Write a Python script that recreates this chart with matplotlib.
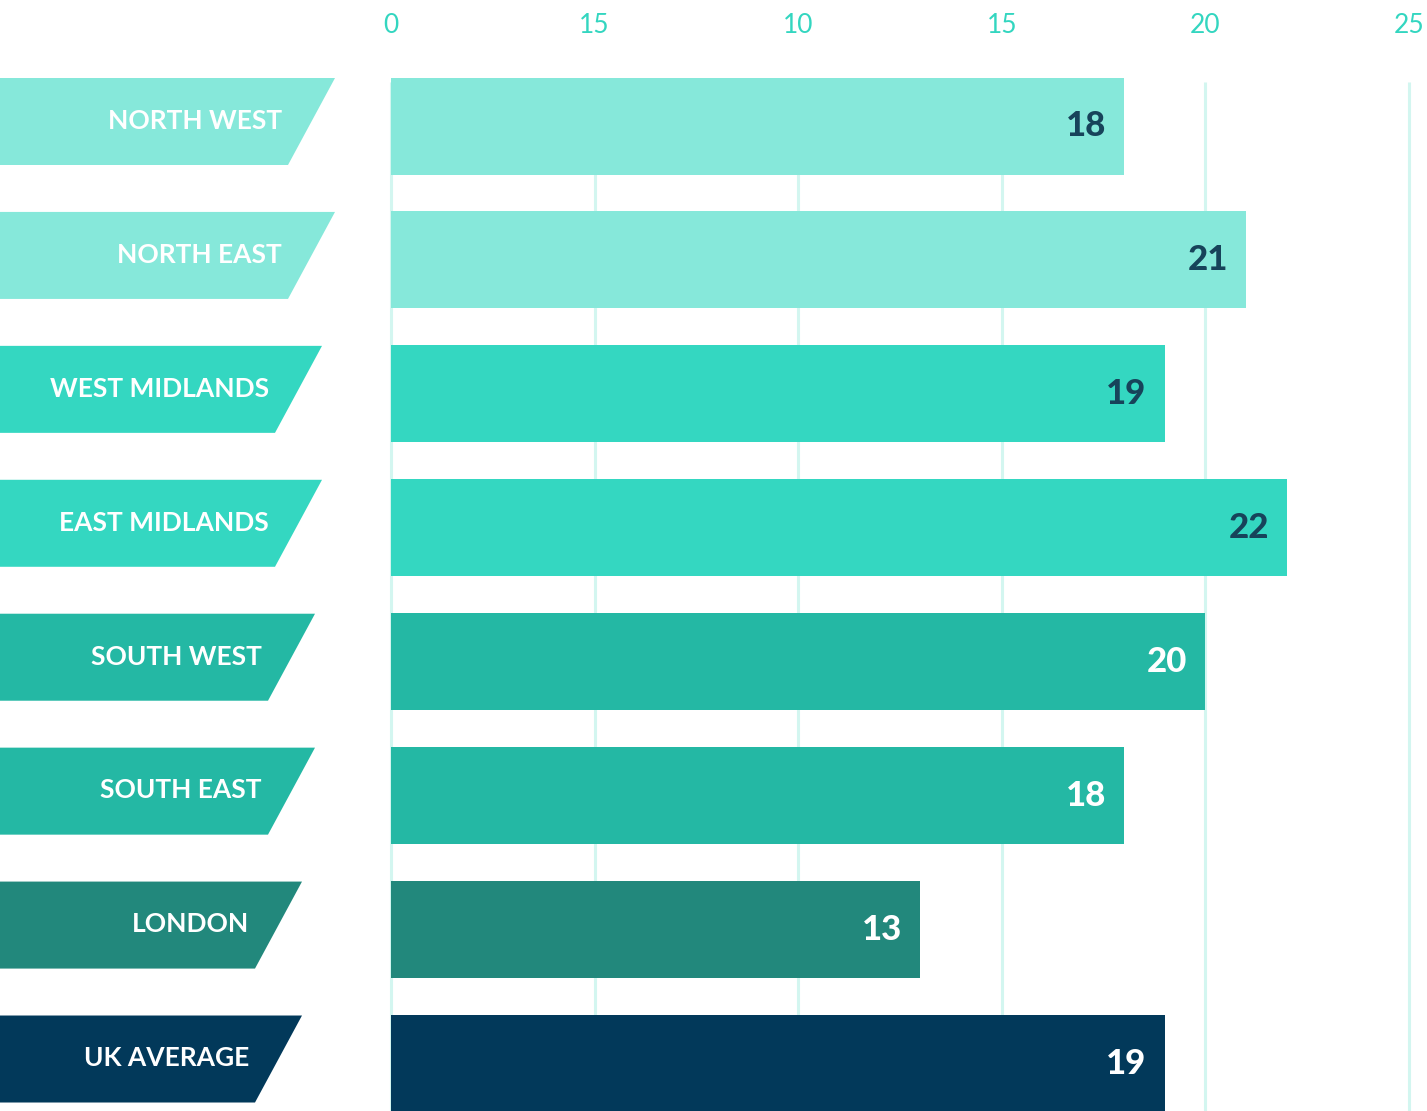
import matplotlib
matplotlib.use("Agg")
import matplotlib.pyplot as plt
from matplotlib.patches import Polygon
from matplotlib import transforms

# ---- data ----
regions = ["NORTH WEST", "NORTH EAST", "WEST MIDLANDS", "EAST MIDLANDS",
           "SOUTH WEST", "SOUTH EAST", "LONDON", "UK AVERAGE"]
values = [18, 21, 19, 22, 20, 18, 13, 19]
tick_values = [0, 5, 10, 15, 20, 25]
tick_labels = ["0", "15", "10", "15", "20", "25"]

# ---- style ----
bar_colors = ["#86E8DA", "#86E8DA", "#34D7C1", "#34D7C1",
              "#24B8A4", "#24B8A4", "#22887C", "#02395A"]
value_colors = ["#17435A"] * 4 + ["#FFFFFF"] * 4
tag_right_px = [335, 335, 322, 322, 315, 315, 302, 302]
slant_px = 47
FONT = ["Lato", "DejaVu Sans"]

W, H, DPI = 1427, 1111, 100
fig = plt.figure(figsize=(W / DPI, H / DPI), dpi=DPI)
fig.patch.set_facecolor("white")

x0_px, x25_px = 391, 1409
ppu = (x25_px - x0_px) / 25.0
xmin = -x0_px / ppu
xmax = (W - x0_px) / ppu

row_px = 133.93
c0_px = 126
top_axes_px = 82
ax = fig.add_axes([0, 0, 1, (H - top_axes_px) / H])
ax.set_xlim(xmin, xmax)
ymax_top = (top_axes_px - c0_px) / row_px
ymin_bot = (H - c0_px) / row_px
ax.set_ylim(ymin_bot, ymax_top)
for s in ax.spines.values():
    s.set_visible(False)
ax.set_yticks([])
ax.xaxis.tick_top()
ax.set_xticks(tick_values)
ax.set_xticklabels(tick_labels, fontsize=19, color="#33D6C0", family=FONT)
ax.tick_params(axis="x", length=0, pad=32)

# grid lines
ax.vlines(tick_values, ymin_bot, ymax_top, colors="#D3F6F0", linewidth=2.2, zorder=0)

ypos = list(range(len(regions)))
bar_h = 97 / row_px
ax.barh(ypos, values, height=bar_h, color=bar_colors, zorder=2, clip_on=False,
        align="center")

# value labels
for y, v, c in zip(ypos, values, value_colors):
    ax.annotate(str(v), xy=(v, y), xytext=(-13, 0), textcoords="offset points",
                ha="right", va="center", fontsize=25, fontweight="black",
                color=c, family=FONT, zorder=3)

# region tags (slanted label shapes)
blend = transforms.blended_transform_factory(fig.transFigure, ax.transData)
for y, name, col, rpx in zip(ypos, regions, bar_colors, tag_right_px):
    top = y - 48 / row_px
    bot = y + 39 / row_px
    xr_top = rpx / W
    xr_bot = (rpx - slant_px) / W
    poly = Polygon([(0, top), (xr_top, top), (xr_bot, bot), (0, bot)],
                   closed=True, facecolor=col, edgecolor="none",
                   transform=blend, clip_on=False, zorder=2)
    ax.add_patch(poly)
    ax.text((rpx - slant_px - 6) / W, (top + bot) / 2 - 0.005, name,
            transform=blend, ha="right", va="center", fontsize=19,
            fontweight="bold", color="white", family=FONT, zorder=3)

fig.savefig("out.png", dpi=DPI, facecolor="white")
